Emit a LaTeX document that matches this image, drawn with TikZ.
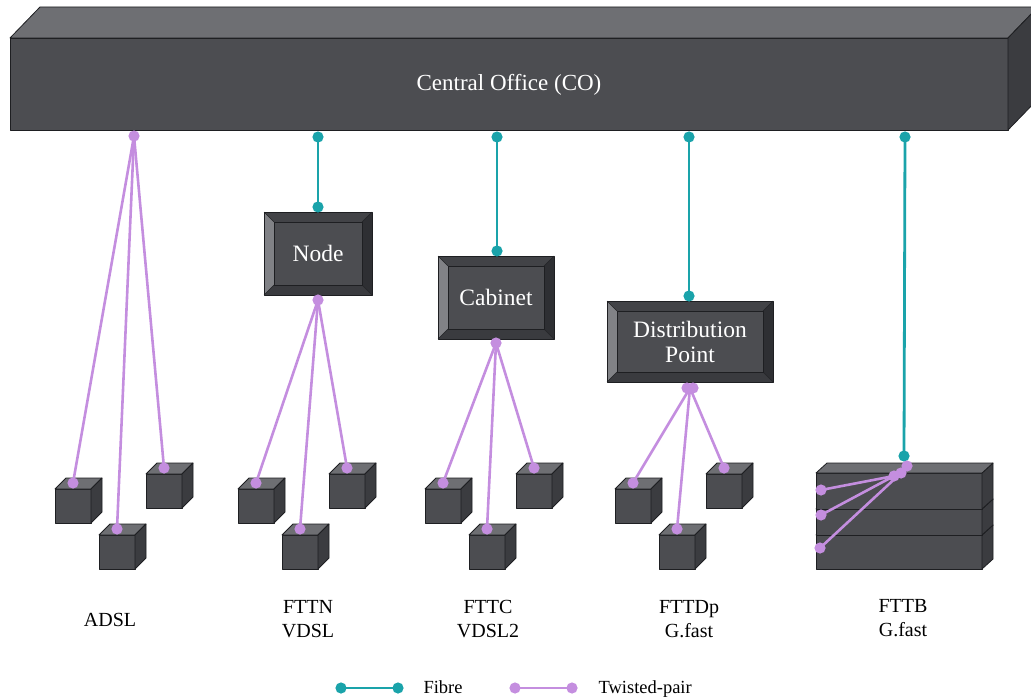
\documentclass[tikz,border=0pt]{standalone}
\usepackage{fontspec}
\setmainfont{Liberation Serif}
\definecolor{facefront}{HTML}{4C4D51}
\definecolor{facetop}{HTML}{6E6F73}
\definecolor{faceside}{HTML}{3B3C40}
\definecolor{edgegrey}{HTML}{1E1F22}
\definecolor{bevelleft}{HTML}{818286}
\definecolor{beveltop}{HTML}{424347}
\definecolor{bevelright}{HTML}{2E2F33}
\definecolor{bevelbottom}{HTML}{3A3B3F}
\definecolor{fibreteal}{HTML}{1AA3AA}
\definecolor{tpurple}{HTML}{C48EDF}

\tikzset{
  faceline/.style={draw=edgegrey, line width=0.8pt, line join=round},
  fibre/.style={draw=fibreteal, line width=2.8pt},
  twisted/.style={draw=tpurple, line width=2.6pt},
  boxlabel/.style={text=white, align=center, font=\fontsize{23.5}{25}\selectfont},
  colabel/.style={text=white, font=\fontsize{23}{26}\selectfont},
  caption/.style={text=black, align=center, font=\fontsize{20}{24.5}\selectfont},
  legendtext/.style={text=black, anchor=base west, font=\fontsize{18.5}{22}\selectfont},
  cube/.pic={
    \filldraw[faceline, fill=facefront] (0,0) rectangle (36,34);
    \filldraw[faceline, fill=facetop] (0,0) -- (11,-11) -- (47,-11) -- (36,0) -- cycle;
    \filldraw[faceline, fill=faceside] (36,0) -- (47,-11) -- (47,23) -- (36,34) -- cycle;
  }
}

% bevelled equipment box: name, x1, y1, x2, y2, label
\newcommand{\bevelbox}[6]{%
  \fill[bevelleft] (#2,#3) -- ({#2+10},{#3+10}) -- ({#2+10},{#5-10}) -- (#2,#5) -- cycle;
  \fill[beveltop] (#2,#3) -- (#4,#3) -- ({#4-10},{#3+10}) -- ({#2+10},{#3+10}) -- cycle;
  \fill[bevelright] (#4,#3) -- (#4,#5) -- ({#4-10},{#5-10}) -- ({#4-10},{#3+10}) -- cycle;
  \fill[bevelbottom] (#2,#5) -- (#4,#5) -- ({#4-10},{#5-10}) -- ({#2+10},{#5-10}) -- cycle;
  \filldraw[faceline, fill=facefront] ({#2+10},{#3+10}) rectangle ({#4-10},{#5-10});
  \draw[draw=edgegrey, line width=0.5pt] (#2,#3) -- ({#2+10},{#3+10}) (#4,#3) -- ({#4-10},{#3+10})
        (#4,#5) -- ({#4-10},{#5-10}) (#2,#5) -- ({#2+10},{#5-10});
  \draw[faceline] (#2,#3) rectangle (#4,#5);
  \node[boxlabel] (#1) at ({(#2+#4)/2},{(#3+#5)/2}) {#6};
}

% one storey of the building block
\newcommand{\storey}[2]{%
  \filldraw[faceline, fill=facefront] (816,#1) rectangle (982,#2);
  \filldraw[faceline, fill=faceside] (982,#1) -- (993,{#1-10}) -- (993,{#2-10}) -- (982,#2) -- cycle;
  \filldraw[faceline, fill=facetop] (816,#1) -- (827,{#1-10}) -- (993,{#1-10}) -- (982,#1) -- cycle;
}

\begin{document}
\begin{tikzpicture}[x=1pt, y=-1pt]
  \useasboundingbox (0,0) rectangle (1031,698);
  \clip (0,0) rectangle (1031,698);

  % central office block
  \filldraw[faceline, fill=facefront] (10,38) rectangle (1008,130);
  \filldraw[faceline, fill=facetop] (10,38) -- (40,7) -- (1038,7) -- (1008,38) -- cycle;
  \filldraw[faceline, fill=faceside] (1008,38) -- (1038,7) -- (1038,99) -- (1008,130) -- cycle;
  \node[colabel] (co) at (509,85) {Central Office (CO)};

  % connection points
  \coordinate (f1a) at (318,137);  \coordinate (f1b) at (318,207);
  \coordinate (f2a) at (497,137);  \coordinate (f2b) at (497,251);
  \coordinate (f3a) at (689,137);  \coordinate (f3b) at (689,296);
  \coordinate (f4a) at (905,137);  \coordinate (f4b) at (904,456);

  \coordinate (adsl-r) at (134,136);
  \coordinate (fttn-r) at (318,300);
  \coordinate (fttc-r) at (496,343);
  \coordinate (fttdp-r) at (690,388);

  % customer premises
  \foreach \g/\dx in {adsl/0, fttn/183, fttc/370, fttdp/560}{
    \pic at ({55+\dx},489) {cube};
    \pic at ({99+\dx},535) {cube};
    \pic at ({146+\dx},474) {cube};
    \coordinate (\g-1) at ({73+\dx},483);
    \coordinate (\g-2) at ({117+\dx},529);
    \coordinate (\g-3) at ({164+\dx},468);
  }

  % building
  \storey{535}{569}
  \storey{509}{535}
  \storey{473}{509}
  \coordinate (b-p1) at (907,466);
  \coordinate (b-p2) at (901,473);
  \coordinate (b-p3) at (894,476);
  \coordinate (b-1) at (821,490);
  \coordinate (b-2) at (821,515);
  \coordinate (b-3) at (820,548);

  % fibre runs
  \draw[fibre] (f1a) -- (f1b);
  \draw[fibre] (f2a) -- (f2b);
  \draw[fibre] (f3a) -- (f3b);
  \draw[fibre] (f4a) -- (f4b);

  % twisted-pair runs
  \foreach \g in {adsl, fttn, fttc, fttdp}
    \foreach \i in {1,2,3}
      \draw[twisted] (\g-r) -- (\g-\i);
  \draw[twisted] (b-p1) -- (b-p2) -- (b-p3);
  \draw[twisted] (b-p3) -- (b-1);
  \draw[twisted] (b-p3) -- (b-2);
  \draw[twisted] (b-p2) -- (b-3);

  % street equipment
  \bevelbox{node}{264}{212}{372}{295}{Node}
  \bevelbox{cabinet}{438}{256}{554}{339}{Cabinet}
  \bevelbox{dp}{607}{301}{773}{382}{Distribution\\Point}

  % terminals
  \foreach \c in {f1a,f1b,f2a,f2b,f3a,f3b,f4a,f4b}
    \fill[fibreteal] (\c) circle (5.6);
  \foreach \c in {adsl-r,fttn-r,fttc-r,adsl-1,adsl-2,adsl-3,fttn-1,fttn-2,fttn-3,
                  fttc-1,fttc-2,fttc-3,fttdp-1,fttdp-2,fttdp-3,b-p1,b-p2,b-p3,b-1,b-2,b-3}
    \fill[tpurple] (\c) circle (5.6);
  \fill[tpurple] (687,388) circle (5.6);
  \fill[tpurple] (693,388) circle (5.6);

  % captions
  \node[caption] (c-adsl) at (110,620) {ADSL};
  \node[caption] (c-fttn) at (308,619) {FTTN\\VDSL};
  \node[caption] (c-fttc) at (488,619) {FTTC\\VDSL2};
  \node[caption] (c-fttdp) at (689,619) {FTTDp\\G.fast};
  \node[caption] (c-fttb) at (903,618) {FTTB\\G.fast};

  % legend
  \coordinate (lf1) at (341,688); \coordinate (lf2) at (398,688);
  \coordinate (lt1) at (515,688); \coordinate (lt2) at (572,688);
  \draw[fibre] (lf1) -- (lf2);
  \draw[twisted] (lt1) -- (lt2);
  \fill[fibreteal] (lf1) circle (5.6); \fill[fibreteal] (lf2) circle (5.6);
  \fill[tpurple] (lt1) circle (5.6); \fill[tpurple] (lt2) circle (5.6);
  \node[legendtext] (l-fibre) at (420,693) {Fibre};
  \node[legendtext] (l-tp) at (595,693) {Twisted-pair};
\end{tikzpicture}
\end{document}
